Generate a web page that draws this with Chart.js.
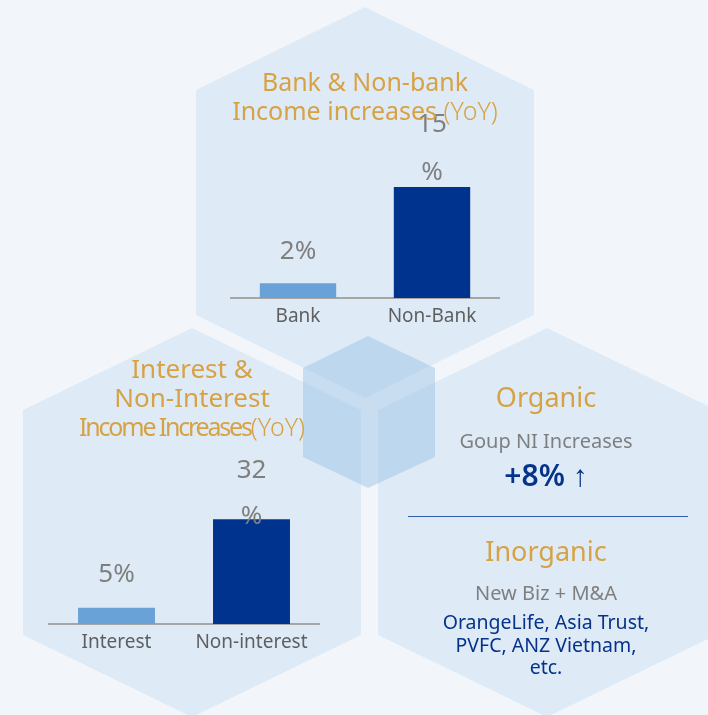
<!DOCTYPE html>
<html>
<head>
<meta charset="utf-8">
<script src="https://cdn.jsdelivr.net/npm/chart.js@4.4.1/dist/chart.umd.min.js"></script>
<style>
  html, body { margin: 0; padding: 0; background: #f2f6fb; }
  #board { position: relative; width: 708px; height: 715px; overflow: hidden; font-family: "Noto Sans", sans-serif; }
  #board svg { position: absolute; left: 0; top: 0; }
  canvas { position: absolute; }
  .txt { position: absolute; text-align: center; white-space: nowrap; }
  .gold { color: #d7a244; }
  .gray { color: #7f7f7f; }
  .navy { color: #06338a; }
  .yoy { font-weight: 300; letter-spacing: 0; }
</style>
</head>
<body>
<div id="board">
  <svg width="708" height="715">
    <g fill="#deebf7">
      <polygon points="365,7 534,90 534,315 365,398 196,315 196,90"/>
      <polygon points="192,328 361,410 361,635 192,717 23,635 23,410"/>
      <polygon points="547,328 716,410 716,635 547,717 378,635 378,410"/>
    </g>
  </svg>

  <canvas id="bankChart" width="288" height="238" style="left:221px;top:90px"></canvas>
  <canvas id="interestChart" width="290" height="224" style="left:39px;top:430px"></canvas>

  <svg width="708" height="715" style="pointer-events:none">
    <!-- translucent cube where the three hexagons meet -->
    <polygon points="368,336 435,368 435,457 368,488 303,457 303,368" fill="rgba(140,185,225,0.4)"/>
  </svg>

  <!-- top panel title -->
  <div class="txt gold" style="left:165px;width:400px;top:66px;font-size:25px;line-height:30px">Bank &amp; Non-bank</div>
  <div class="txt gold" style="left:165px;width:400px;top:95px;font-size:25px;line-height:30px">Income increases <span class="yoy">(YoY)</span></div>

  <!-- left panel title -->
  <div class="txt gold" style="left:-8px;width:400px;top:353px;font-size:26px;line-height:30px">Interest &amp;</div>
  <div class="txt gold" style="left:-8px;width:400px;top:382px;font-size:26px;line-height:30px">Non-Interest</div>
  <div class="txt gold" style="left:-8px;width:400px;top:411px;font-size:25px;line-height:30px"><span style="letter-spacing:-2.2px">Income Increases</span><span class="yoy">(YoY)</span></div>

  <!-- right panel -->
  <div class="txt gold" style="left:346px;width:400px;top:382px;font-size:27px;line-height:30px">Organic</div>
  <div class="txt gray" style="left:346px;width:400px;top:428px;font-size:20px;line-height:26px">Goup NI Increases</div>
  <div class="txt navy" style="left:346px;width:400px;top:457px;font-size:30px;line-height:36px;font-weight:600">+8% ↑</div>
  <div style="position:absolute;left:408px;top:516px;width:280px;height:0;border-top:1.5px solid #2f5fa7"></div>
  <div class="txt gold" style="left:346px;width:400px;top:536px;font-size:27px;line-height:30px">Inorganic</div>
  <div class="txt gray" style="left:346px;width:400px;top:580px;font-size:20px;line-height:26px">New Biz + M&amp;A</div>
  <div class="txt navy" style="left:346px;width:400px;top:611px;font-size:19.5px;line-height:22.5px">OrangeLife, Asia Trust,<br>PVFC, ANZ Vietnam,<br>etc.</div>
</div>

<script>
// YoY growth, in percent
const bankLabels = ['Bank', 'Non-Bank'];
const bankGrowth = [2, 15];
const interestLabels = ['Interest', 'Non-interest'];
const interestGrowth = [5, 32];

const barColors = ['#69a2d6', '#00338d'];

// value text above each bar; two-digit values wrap the "%" onto its own line
const valueLabels = {
  id: 'valueLabels',
  afterDatasetsDraw(chart, args, opts) {
    const ctx = chart.ctx;
    const size = 26;
    const data = chart.data.datasets[0].data;
    ctx.save();
    ctx.font = size + 'px "Noto Sans", sans-serif';
    ctx.fillStyle = '#7f7f7f';
    ctx.textAlign = 'center';
    ctx.textBaseline = 'alphabetic';
    const half = size * 0.357;
    chart.getDatasetMeta(0).data.forEach((bar, i) => {
      const v = data[i];
      if (v >= 10) {
        const pctY = bar.y - opts.pctLift;
        ctx.fillText('%', bar.x, pctY + half);
        ctx.fillText(String(v), bar.x, pctY - opts.lineGap + half);
      } else {
        ctx.fillText(v + '%', bar.x, bar.y - opts.lift + half);
      }
    });
    ctx.restore();
  }
};

function makeChart(id, labels, values, yMax, pad, labelOpts) {
  return new Chart(document.getElementById(id), {
    type: 'bar',
    data: {
      labels: labels,
      datasets: [{
        data: values,
        backgroundColor: barColors,
        barPercentage: 0.57,
        categoryPercentage: 1.0
      }]
    },
    options: {
      responsive: false,
      animation: false,
      layout: { padding: pad },
      plugins: {
        legend: { display: false },
        tooltip: { enabled: false },
        valueLabels: labelOpts
      },
      scales: {
        y: { display: false, min: 0, max: yMax },
        x: {
          grid: { display: false, drawTicks: false },
          border: { display: true, color: '#a6a6a6', width: 2 },
          ticks: {
            color: '#5f5f5f',
            padding: 7,
            font: { family: '"Noto Sans", sans-serif', size: 19 }
          },
          afterFit(scale) { scale.height = 30; }
        }
      }
    },
    plugins: [valueLabels]
  });
}

makeChart('bankChart', bankLabels, bankGrowth, 20,
  { top: 60, left: 10, right: 10, bottom: 0 },
  { lift: 33.5, pctLift: 16.5, lineGap: 47.5 });

makeChart('interestChart', interestLabels, interestGrowth, 40,
  { top: 63, left: 10, right: 10, bottom: 0 },
  { lift: 34.5, pctLift: 4, lineGap: 46 });
</script>
</body>
</html>
